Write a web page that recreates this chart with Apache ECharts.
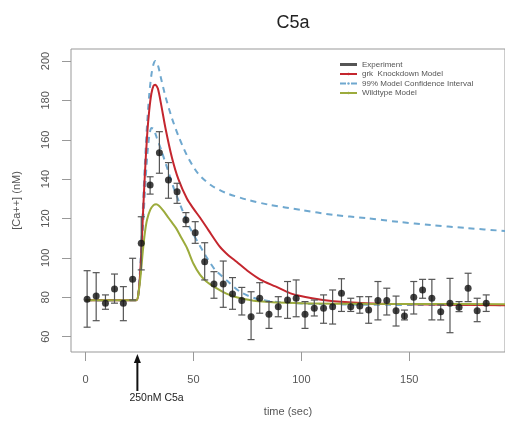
<!DOCTYPE html>
<html>
<head>
<meta charset="utf-8">
<script src="https://cdn.jsdelivr.net/npm/echarts@6/dist/echarts.min.js"></script>
<style>
  html, body { margin: 0; padding: 0; background: #fff; }
  #chart { width: 505px; height: 427px; }
</style>
</head>
<body>
<div id="chart"></div>
<script>
// tick labels
const xTicks = [0, 50, 100, 150]
const yTicks = [60, 80, 100, 120, 140, 160, 180, 200]

// experiment: time, mean, lower and upper error bar ends
const expTime = [0.7, 4.9, 9.2, 13.4, 17.5, 21.8, 25.8, 29.9, 34.2, 38.4, 42.4, 46.5, 50.8, 55.2, 59.5,
  63.8, 68.1, 72.4, 76.7, 80.7, 85.0, 89.3, 93.6, 97.6, 101.7, 106.0, 110.3, 114.5, 118.6, 122.9,
  127.1, 131.2, 135.5, 139.6, 143.9, 147.8, 152.1, 156.2, 160.5, 164.6, 168.9, 173.1, 177.3, 181.5, 185.7]
const expMean = [79.0, 80.6, 77.0, 84.2, 77.0, 89.1, 107.4, 137.0, 153.4, 139.6, 133.6, 119.3, 112.8, 98.1, 86.7,
  86.7, 81.7, 78.3, 70.1, 79.5, 71.4, 75.2, 78.6, 79.5, 71.4, 74.4, 74.4, 75.2, 82.0, 75.2,
  75.6, 73.5, 78.3, 78.3, 73.2, 70.5, 80.0, 83.7, 79.5, 72.7, 77.0, 74.9, 84.6, 73.2, 77.0]
const expLow = [64.8, 68.1, 73.9, 77.0, 68.1, 78.6, 93.9, 132.4, 143.0, 130.3, 127.7, 115.9, 107.4, 88.8, 79.5,
  74.9, 73.9, 71.0, 58.5, 71.9, 64.2, 70.1, 69.3, 70.1, 64.2, 70.5, 66.8, 66.4, 72.8, 72.8,
  71.9, 66.8, 68.5, 71.0, 65.4, 68.5, 71.5, 79.5, 68.5, 68.5, 62.0, 72.7, 77.8, 67.6, 72.8]
const expHigh = [93.5, 92.5, 81.2, 91.8, 85.4, 99.8, 120.9, 141.2, 164.1, 148.4, 137.9, 123.0, 118.4, 107.7, 93.0,
  98.4, 90.0, 85.0, 82.8, 87.4, 77.8, 80.3, 88.0, 88.8, 77.8, 78.6, 81.2, 83.7, 89.4, 79.5,
  80.3, 80.3, 88.0, 84.6, 80.6, 73.5, 88.0, 89.1, 89.1, 76.1, 89.6, 77.8, 92.2, 79.5, 81.2]

// grk knockdown model
const kdTime = [0, 23.5, 24.5, 25.5, 26.5, 27.5, 28.5, 29.5, 30.5, 31.5, 32.3, 33.5, 35, 37, 40, 43, 47, 50,
  53, 57, 62, 66, 70, 75, 81, 88, 95, 105, 115, 130, 150, 170, 195]
const kdValue = [78.5, 78.5, 82, 96, 120, 143, 162, 175, 183.5, 187.5, 188, 186, 178, 166, 151, 140, 130, 125,
  120.5, 114, 106, 101.5, 98, 93.5, 89, 85.5, 82, 79.5, 78, 77, 76.5, 76.2, 76]

// 99% confidence interval, upper and lower
const ciHiTime = [0, 23.5, 24.5, 25.5, 26.5, 27.5, 28.5, 29.5, 30.5, 31.5, 32.4, 33.5, 35, 37, 40, 43, 47, 52,
  58, 65, 75, 85, 100, 115, 130, 145, 160, 176, 195]
const ciHiValue = [78.5, 78.5, 83, 99, 124, 148, 168, 183, 193, 198.5, 200, 198, 191, 182, 171, 162, 152, 143,
  137, 133, 129.5, 127, 124.3, 121.8, 120.2, 118.3, 116.7, 115.2, 113.6]
const ciLoTime = [0, 23.5, 24.5, 25.5, 26.5, 27.5, 28.5, 29.5, 30.5, 31.5, 33, 35, 38, 41, 43.5, 46, 48, 52,
  56, 60, 66, 72, 80, 90, 100, 120, 150, 195]
const ciLoValue = [78.5, 78.5, 82, 94, 114, 134, 151, 162, 166, 165.5, 161, 155, 145, 135, 128, 121, 116, 108,
  100.5, 94, 88, 82.5, 79, 77.5, 76.8, 76.3, 76.1, 76]

// wildtype model
const wtTime = [0, 23.5, 24.5, 25.5, 26.5, 27.5, 28.5, 30, 31.5, 32.7, 34, 36, 38, 40, 42, 44, 47, 50, 53, 56,
  60, 65, 70, 80, 100, 130, 160, 195]
const wtValue = [78.5, 78.5, 82, 91, 103, 113, 119.5, 124.5, 126.8, 127.3, 126.5, 124, 121, 118, 115, 111, 105,
  97, 91.5, 88, 85, 82, 80, 78, 77, 76.7, 76.6, 76.5]

const stimTime = 24

const zip = (a, b) => a.map((v, i) => [v, b[i]])
const font = 'Liberation Sans, Arial, sans-serif'

const chart = echarts.init(document.getElementById('chart'))

const option = {
  animation: false,
  title: {
    text: 'C5a',
    left: 288,
    top: 9,
    textAlign: 'center',
    textStyle: { fontSize: 18, fontWeight: 'normal', color: '#222', fontFamily: font }
  },
  legend: {
    orient: 'vertical',
    left: 334,
    top: 55,
    itemWidth: 17,
    itemHeight: 3,
    itemGap: 0.5,
    textStyle: { fontSize: 8, lineHeight: 9, color: '#555', fontFamily: font },
    data: [
      { name: 'Experiment', icon: 'rect', itemStyle: { color: '#555' } },
      'grk  Knockdown Model',
      '99% Model Confidence Interval',
      'Wildtype Model'
    ]
  },
  grid: {
    left: 71,
    top: 49,
    right: -3,
    bottom: 75,
    show: true,
    borderColor: '#999',
    borderWidth: 1,
    containLabel: false
  },
  xAxis: {
    type: 'value',
    min: -6.77,
    max: 194.4,
    name: 'time (sec)',
    nameLocation: 'middle',
    nameGap: 54,
    nameTextStyle: { fontSize: 11, color: '#555', fontFamily: font },
    axisLine: { show: false, onZero: false },
    splitLine: { show: false },
    axisTick: { show: true, inside: false, length: 9, customValues: xTicks, lineStyle: { color: '#999' } },
    axisLabel: { customValues: xTicks, margin: 22, fontSize: 11, color: '#555', fontFamily: font }
  },
  yAxis: {
    type: 'value',
    min: 52.2,
    max: 206.1,
    name: '[Ca++] (nM)',
    nameLocation: 'middle',
    nameGap: 49,
    nameTextStyle: { fontSize: 11, color: '#555', fontFamily: font },
    axisLine: { show: false, onZero: false },
    splitLine: { show: false },
    axisTick: { show: true, inside: false, length: 9, customValues: yTicks, lineStyle: { color: '#999' } },
    axisLabel: { customValues: yTicks, rotate: 90, margin: 20, fontSize: 11, color: '#555', fontFamily: font }
  },
  series: [
    {
      name: '99% Model Confidence Interval',
      type: 'line',
      data: zip(ciHiTime, ciHiValue),
      showSymbol: false,
      symbol: 'none',
      smooth: 0.25,
      lineStyle: { color: '#6fa8cf', width: 2, type: [6, 5] },
      itemStyle: { color: '#6fa8cf' },
      z: 2
    },
    {
      name: '99% Model Confidence Interval',
      type: 'line',
      data: zip(ciLoTime, ciLoValue),
      showSymbol: false,
      symbol: 'none',
      smooth: 0.25,
      lineStyle: { color: '#6fa8cf', width: 2, type: [6, 5] },
      itemStyle: { color: '#6fa8cf' },
      z: 2
    },
    {
      name: 'grk  Knockdown Model',
      type: 'line',
      data: zip(kdTime, kdValue),
      showSymbol: false,
      symbol: 'none',
      smooth: 0.25,
      lineStyle: { color: '#c4262e', width: 2 },
      itemStyle: { color: '#c4262e' },
      z: 3
    },
    {
      name: 'Wildtype Model',
      type: 'line',
      data: zip(wtTime, wtValue),
      showSymbol: false,
      symbol: 'none',
      smooth: 0.25,
      lineStyle: { color: '#9cab3c', width: 2 },
      itemStyle: { color: '#9cab3c' },
      z: 3
    },
    {
      name: 'Experiment',
      type: 'custom',
      data: expTime.map((t, i) => [t, expLow[i], expHigh[i]]),
      renderItem: function (params, api) {
        const lo = api.coord([api.value(0), api.value(1)])
        const hi = api.coord([api.value(0), api.value(2)])
        const w = 3.5
        const st = { stroke: '#555', lineWidth: 1.2 }
        return {
          type: 'group',
          children: [
            { type: 'line', shape: { x1: lo[0], y1: lo[1], x2: hi[0], y2: hi[1] }, style: st },
            { type: 'line', shape: { x1: lo[0] - w, y1: lo[1], x2: lo[0] + w, y2: lo[1] }, style: st },
            { type: 'line', shape: { x1: hi[0] - w, y1: hi[1], x2: hi[0] + w, y2: hi[1] }, style: st }
          ]
        }
      },
      itemStyle: { color: '#555' },
      z: 4
    },
    {
      name: 'Experiment',
      type: 'scatter',
      data: zip(expTime, expMean),
      symbol: 'circle',
      symbolSize: 7,
      itemStyle: { color: '#111' },
      z: 5
    }
  ]
}

chart.setOption(option)

// stimulus arrow and label under the x axis
const px = chart.convertToPixel({ xAxisIndex: 0 }, stimTime)
chart.setOption({
  graphic: [
    { type: 'line', shape: { x1: px, y1: 391, x2: px, y2: 360 }, style: { stroke: '#111', lineWidth: 2 } },
    { type: 'polygon', shape: { points: [[px - 3.5, 363], [px + 3.5, 363], [px, 354]] }, style: { fill: '#111' } },
    {
      type: 'text',
      x: px - 8,
      y: 398,
      style: { text: '250nM C5a', fontSize: 10.5, fill: '#222', fontFamily: font, verticalAlign: 'middle' }
    }
  ]
})
</script>
</body>
</html>
